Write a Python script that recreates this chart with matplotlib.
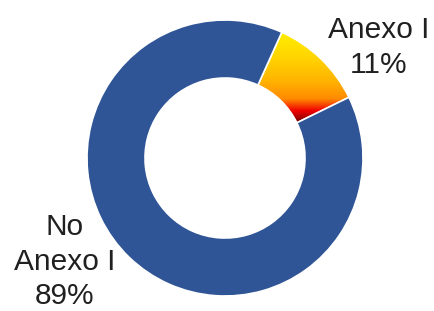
import matplotlib.pyplot as plt
import numpy as np
from matplotlib.colors import LinearSegmentedColormap

# ====== Data ====== #
LABELS = ["Anexo I", "No\nAnexo I"]
VALUES = [11, 89]
PCT_TEXT = ["11%", "89%"]

# ====== Style ====== #
W, H = 435, 311
BLUE = "#2F5597"
TEXT_COLOR = "#202020"
FONT = "Liberation Sans"
FONT_SIZE = 21.5

fig = plt.figure(figsize=(W / 100, H / 100), dpi=100)
ax = fig.add_axes([0, 0, 1, 1])

# donut geometry in pixel units (y measured from the bottom)
cx, cy, r = 225, H - 158, 138
ring = 1 - 80 / 138
wedges, _ = ax.pie(VALUES, colors=["white", BLUE], startangle=65.7,
                   counterclock=False, center=(cx, cy), radius=r,
                   wedgeprops=dict(width=r * ring, edgecolor="white", linewidth=1.2))

# yellow (top) -> dark red (bottom) gradient in the small wedge
grad_cmap = LinearSegmentedColormap.from_list(
    "fire", [(0.0, "#FFF000"), (0.3, "#FFD400"), (0.55, "#FFB400"),
             (0.75, "#FF8A00"), (0.88, "#F00000"), (1.0, "#7A0000")])
y_top, y_bot = H - 30, H - 122
ext_bot, ext_top = y_bot - 20, y_top + 5
ys = np.linspace(ext_bot, ext_top, 256)          # rows, bottom -> top
t = np.clip((y_top - ys) / (y_top - y_bot), 0, 1).reshape(-1, 1)
img = ax.imshow(t, cmap=grad_cmap, vmin=0, vmax=1,
                extent=(cx - 20, cx + r + 5, ext_bot, ext_top),
                aspect="auto", origin="lower", zorder=0.5)
img.set_clip_path(wedges[0])
wedges[0].set_facecolor("none")
wedges[0].set_zorder(1)

# labels, one line at a time (baselines in image pixels from the top)
for txt, y in zip(["Anexo I", PCT_TEXT[0]], [38, 73]):
    ax.text(379, H - y, txt, ha="center", va="baseline",
            fontsize=FONT_SIZE, family=FONT, color=TEXT_COLOR)
for txt, y in zip(LABELS[1].split("\n") + [PCT_TEXT[1]], [235, 270, 304]):
    ax.text(65, H - y, txt, ha="center", va="baseline",
            fontsize=FONT_SIZE, family=FONT, color=TEXT_COLOR)

ax.set_xlim(0, W)
ax.set_ylim(0, H)
ax.set_aspect("equal")
ax.axis("off")

fig.savefig("out.png", dpi=100)
